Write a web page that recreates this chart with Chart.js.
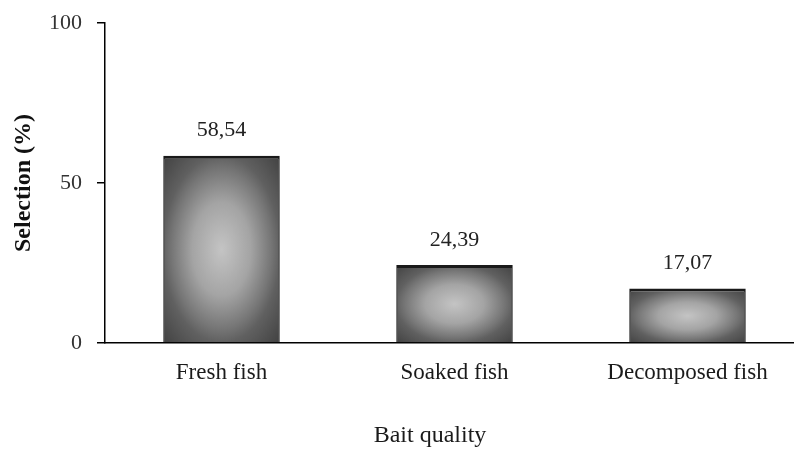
<!DOCTYPE html>
<html>
<head>
<meta charset="utf-8">
<script src="https://cdn.jsdelivr.net/npm/chart.js@4/dist/chart.umd.min.js"></script>
<style>
  html, body { margin: 0; padding: 0; background: #fff; overflow: hidden; }
  #wrap { width: 810px; height: 450px; }
</style>
</head>
<body>
<div id="wrap"><canvas id="c" width="810" height="450"></canvas></div>
<script>
// Bait preference data
const categories = ['Fresh fish', 'Soaked fish', 'Decomposed fish'];
const selection = [58.54, 24.39, 17.07];
const yTicks = [0, 50, 100];
const xTitle = 'Bait quality';
const yTitle = 'Selection (%)';

const FONT = '"Liberation Serif", "Times New Roman", serif';
const BAR_FRACTION = 0.5;

// Shaded fill: elliptical radial gradient sized to each bar, light in the middle.
function barFill(ctx) {
  const chart = ctx.chart;
  if (!chart.chartArea || ctx.dataIndex === undefined) return '#888';
  const xs = chart.scales.x, ys = chart.scales.y;
  const w = Math.max(2, Math.round(xs.width / categories.length * BAR_FRACTION));
  const cx = xs.getPixelForValue(ctx.dataIndex);
  const top = ys.getPixelForValue(ctx.raw);
  const bottom = ys.getPixelForValue(0);
  const h = Math.max(2, Math.round(bottom - top));
  const off = document.createElement('canvas');
  off.width = w; off.height = h;
  const g = off.getContext('2d');
  g.setTransform(w / 2, 0, 0, h / 2, w / 2, h / 2);
  const R = 1.45;
  const grad = g.createRadialGradient(0, 0, 0, 0, 0, R);
  grad.addColorStop(0, '#c4c4c4');
  grad.addColorStop(0.5 / R, '#a4a4a4');
  grad.addColorStop(0.85 / R, '#767676');
  grad.addColorStop(1.0 / R, '#606060');
  grad.addColorStop(1, '#3e3e3e');
  g.fillStyle = grad;
  g.fillRect(-1, -1, 2, 2);
  const pat = chart.ctx.createPattern(off, 'no-repeat');
  pat.setTransform(new DOMMatrix([1, 0, 0, 1, cx - w / 2, top]));
  return pat;
}

// Value written above each bar (decimal comma) and the category-axis title
const annotations = {
  id: 'annotations',
  afterDatasetsDraw(chart) {
    const { ctx } = chart;
    const meta = chart.getDatasetMeta(0);
    ctx.save();
    ctx.font = '22px ' + FONT;
    ctx.fillStyle = '#222';
    ctx.textAlign = 'center';
    ctx.textBaseline = 'middle';
    meta.data.forEach((bar, i) => {
      const txt = selection[i].toFixed(2).replace('.', ',');
      ctx.fillText(txt, bar.x, bar.y - 25);
    });
    ctx.font = '24px ' + FONT;
    ctx.fillStyle = '#1a1a1a';
    ctx.fillText(xTitle, 430, 436);
    ctx.restore();
  }
};

new Chart(document.getElementById('c'), {
  type: 'bar',
  data: {
    labels: categories,
    datasets: [{
      data: selection,
      backgroundColor: barFill,
      borderColor: '#1a1a1a',
      borderWidth: { top: 3, left: 1.5, right: 1.5, bottom: 0 },
      borderSkipped: false,
      categoryPercentage: 1,
      barPercentage: BAR_FRACTION
    }]
  },
  options: {
    responsive: false,
    animation: false,
    layout: { padding: { top: 23, right: 6, bottom: 0, left: 0 } },
    plugins: {
      legend: { display: false },
      tooltip: { enabled: false }
    },
    scales: {
      x: {
        afterFit(scale) { scale.height = 107; },
        grid: { display: true, drawOnChartArea: false, drawTicks: false },
        border: { display: true, color: '#000', width: 1.5 },
        ticks: { color: '#1a1a1a', padding: 16, font: { family: FONT, size: 23 } },
        title: { display: false }
      },
      y: {
        min: 0, max: 100,
        afterFit(scale) {
          scale.width = 105;
          scale.paddingTop = 0;
          scale.paddingBottom = 0;
        },
        afterBuildTicks(scale) { scale.ticks = yTicks.map(v => ({ value: v })); },
        grid: { display: true, drawOnChartArea: false, drawTicks: true, tickLength: 8, color: '#000', lineWidth: 1.5 },
        border: { display: true, color: '#000', width: 1.5 },
        ticks: { color: '#333', padding: 15, font: { family: FONT, size: 22 } },
        title: {
          display: true, text: yTitle, color: '#111',
          font: { family: FONT, size: 24, weight: 'bold' }, padding: { top: 9, bottom: 0 }
        }
      }
    }
  },
  plugins: [annotations]
});
</script>
</body>
</html>
